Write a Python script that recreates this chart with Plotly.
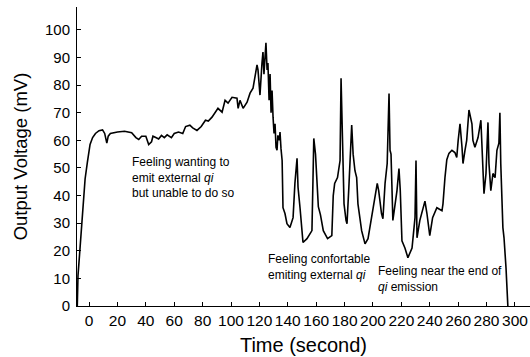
import plotly.graph_objects as go

time_s = [-8.3, -7.8, -6.5, -5.0, -3.8, -2.8, -1.2, 0.7, 2.5, 4.5, 7, 9.5, 11, 12.5, 13.5, 15,
          20, 25, 30, 33, 35, 37, 40, 42, 44, 45, 47, 49, 51, 53, 55, 58, 60, 63, 66, 68, 71,
          73, 76, 79, 82, 84, 86.6, 88.7, 90.8, 93.7, 95.8, 97.9, 100.7, 104.2, 105, 106.3,
          108.5, 111.3, 113.4, 115.5, 116.9, 118.3, 119, 120.4, 121.8, 122.5, 123.2, 124,
          124.6, 125.4, 126, 126.8, 127.5, 128.2, 128.9, 129.6, 130.3, 131, 131.7, 132.4, 133,
          134, 134.5, 135.2, 136, 136.6, 138, 139.4, 141.5, 143.7, 145, 146.5, 147.2, 148.6,
          150, 150.7, 153.5, 157, 157.7, 158.3, 159.5, 160.6, 161.5, 163, 165, 168, 171, 172,
          173, 175, 176.8, 177.5, 178.3, 179, 179.6, 181, 181.7, 183, 185, 186, 187.3, 188.5,
          189.4, 192, 194.4, 196.5, 199, 201, 203, 204, 206, 207, 208.5, 210, 211.3, 212,
          212.7, 213.3, 214, 216.9, 218.3, 219.2, 220.4, 222.5, 224.6, 227.5, 229.6, 230.3,
          231, 233, 236.6, 238, 240, 242, 245, 248.6, 249.3, 250.7, 252, 253.5, 255.6, 257.7,
          259, 260, 261.3, 262.7, 263.4, 264.8, 266, 267.6, 269.7, 270.4, 271.8, 274, 276,
          276.8, 277.5, 278.2, 279.6, 280.3, 281, 281.7, 283, 284.5, 286, 287.3, 288.7, 289.4,
          290, 291.5, 292.3, 293.7, 294.4, 295]
voltage_mV = [0, 11, 20, 30, 40, 46, 52, 58.5, 61, 62.5, 63.5, 63.8, 62.5, 59, 61.5, 62.5,
              63, 63.3, 62.8, 61, 60.3, 61.5, 61.5, 58.5, 59.5, 61.5, 61, 60.5, 61.8, 61, 62,
              61, 62.5, 63, 62.5, 65, 65.5, 64.5, 63.6, 65, 67.3, 67, 68.4, 70.2, 71.6, 70.2,
              74.5, 73.5, 75.6, 75.3, 71.6, 74.5, 71.6, 73.8, 77.1, 78.9, 82.9, 87.3, 85.5,
              76.4, 88, 92, 84, 89, 95.3, 85.5, 88, 74.5, 84, 70, 78, 68.4, 62.5, 66, 57.5,
              56.4, 61.8, 60, 63, 57, 52.7, 35.6, 33.5, 29.8, 28.4, 32, 44.4, 53.5, 43, 35.6,
              27.3, 23, 24.4, 27.3, 45, 60.7, 55, 45, 36, 33, 27.3, 24.4, 25.5, 40, 44.4, 46.5,
              52.7, 82.5, 62, 55, 37, 31, 29.8, 43, 65.5, 55, 49, 46.5, 37, 27.3, 22.5, 24.4,
              32, 39.3, 44.4, 41.8, 33.5, 31.6, 44.4, 51.6, 77, 56.4, 55, 44, 31, 41.8, 49.8,
              42, 23.6, 21, 17.5, 21, 32, 52.7, 24.7, 31, 38, 33.5, 25.5, 32, 35.6, 34.5, 37,
              46.5, 53, 55.3, 56.4, 55.6, 53.8, 60, 66, 57.5, 51.6, 56.4, 60, 71, 66, 60, 57.5,
              61, 67.3, 57.5, 44.4, 40.7, 48, 55.3, 66.5, 51.6, 41.8, 48, 46.5, 56.4, 59, 70,
              51.6, 28.4, 24.7, 13.8, 1.8, 0]

x_ticks = list(range(0, 301, 20))
y_ticks = list(range(0, 101, 10))

ann_texts = ["Feeling wanting to<br>emit external <i>qi</i><br>but unable to do so",
             "Feeling confortable<br>emiting external <i>qi</i>",
             "Feeling near the end of<br><i>qi</i> emission"]
ann_x = [29, 124.3, 202.3]
ann_y = [55.6, 20.4, 16.0]

FONT = "Arial, Liberation Sans, sans-serif"

fig = go.Figure()
fig.add_trace(go.Scatter(x=time_s, y=voltage_mV, mode="lines",
                         line=dict(color="black", width=1.6), showlegend=False))

for txt, ax, ay in zip(ann_texts, ann_x, ann_y):
    fig.add_annotation(x=ax, y=ay, text=txt, showarrow=False, xanchor="left", yanchor="top",
                       align="left", font=dict(family=FONT, size=12, color="black"))

fig.update_layout(
    width=530, height=357,
    margin=dict(l=77, r=0, t=7, b=51),
    paper_bgcolor="white", plot_bgcolor="white",
    font=dict(family=FONT, color="black"),
    xaxis=dict(range=[-8.5, 310.6], tickvals=x_ticks, ticks="inside", ticklen=4,
               tickcolor="black", showline=True, linecolor="black", linewidth=1,
               showgrid=False, zeroline=False, tickfont=dict(size=15.5, family=FONT),
               title=dict(text="Time (second)", font=dict(size=20, family=FONT), standoff=10)),
    yaxis=dict(range=[0, 108.3], tickvals=y_ticks, ticks="inside", ticklen=4,
               tickcolor="black", showline=True, linecolor="black", linewidth=1,
               showgrid=False, zeroline=False, tickfont=dict(size=15, family=FONT),
               ticklabelstandoff=3,
               title=dict(text="Output Voltage (mV)", font=dict(size=18.5, family=FONT), standoff=12)),
)

fig.write_html("out.html", config={"displayModeBar": False},
               post_script="document.body.style.margin='0';document.body.style.overflow='hidden';")
